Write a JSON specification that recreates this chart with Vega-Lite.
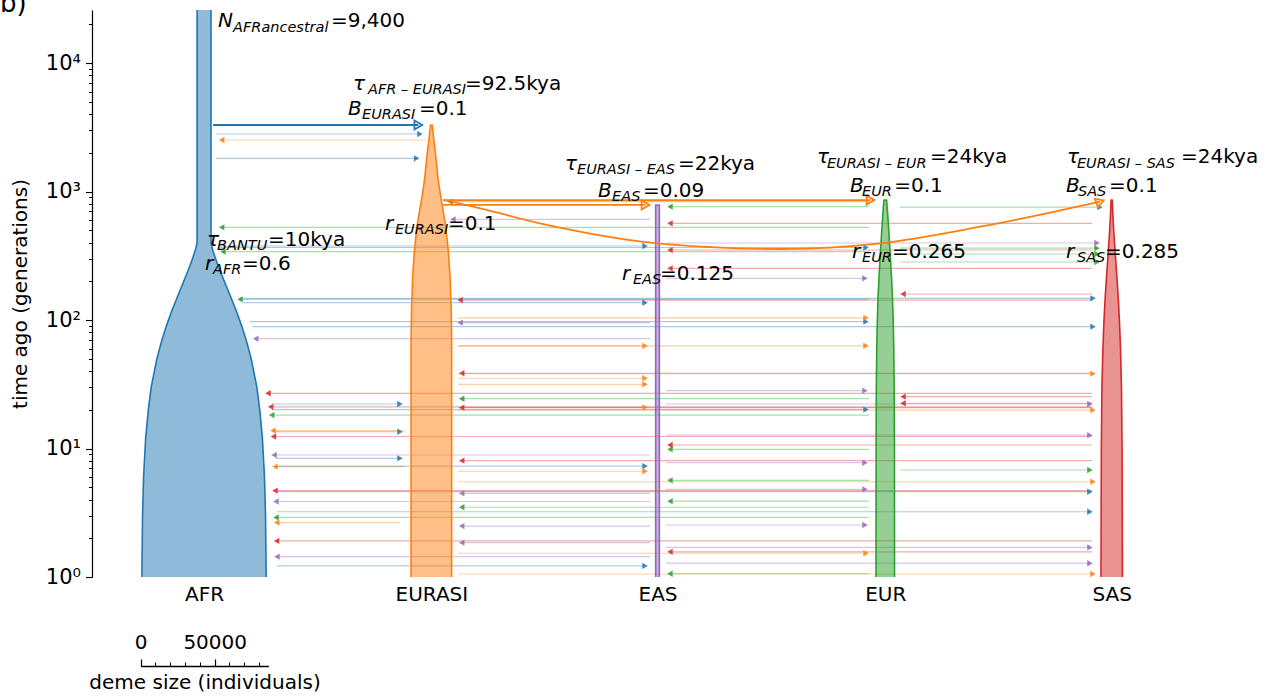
{
"$schema":"https://vega.github.io/schema/vega-lite/v6.json",
"width":1164,"height":567,
"autosize":{"type":"none"},
"padding":{"left":92,"top":10,"right":10,"bottom":120},
"background":"white",
"config":{"view":{"stroke":null},"axis":{"labelFont":"DejaVu Sans","titleFont":"DejaVu Sans","labelColor":"black","titleColor":"black","domainColor":"black","tickColor":"black","grid":false}},
"datasets":{
"centers":[{"deme":"AFR","center":75700},{"deme":"EURASI","center":229300},{"deme":"EAS","center":382100},{"deme":"EUR","center":536000},{"deme":"SAS","center":689000}],
"demes":[
{"deme":"AFR","time":40000,"size":9400},{"deme":"AFR","time":397,"size":9400},{"deme":"AFR","time":350,"size":11700},{"deme":"AFR","time":300,"size":15600},{"deme":"AFR","time":245,"size":21200},{"deme":"AFR","time":200,"size":27400},{"deme":"AFR","time":160,"size":34300},{"deme":"AFR","time":120,"size":43000},{"deme":"AFR","time":90,"size":50900},{"deme":"AFR","time":70,"size":56900},{"deme":"AFR","time":50,"size":63700},{"deme":"AFR","time":30,"size":71400},{"deme":"AFR","time":20,"size":75300},{"deme":"AFR","time":12,"size":78900},{"deme":"AFR","time":6,"size":81700},{"deme":"AFR","time":3,"size":83100},{"deme":"AFR","time":1,"size":84000},{"deme":"AFR","time":0.8,"size":84000},
{"deme":"EURASI","time":3293,"size":1200},{"deme":"EURASI","time":2500,"size":3400},{"deme":"EURASI","time":2000,"size":5500},{"deme":"EURASI","time":1300,"size":8800},{"deme":"EURASI","time":1000,"size":11500},{"deme":"EURASI","time":800,"size":14300},{"deme":"EURASI","time":532,"size":19500},{"deme":"EURASI","time":350,"size":22800},{"deme":"EURASI","time":217,"size":25300},{"deme":"EURASI","time":120,"size":26800},{"deme":"EURASI","time":70,"size":27400},{"deme":"EURASI","time":1,"size":27400},{"deme":"EURASI","time":0.8,"size":27400},
{"deme":"EAS","time":786,"size":2500},{"deme":"EAS","time":0.8,"size":2500},
{"deme":"EUR","time":857,"size":1800},{"deme":"EUR","time":700,"size":3000},{"deme":"EUR","time":600,"size":3800},{"deme":"EUR","time":500,"size":4700},{"deme":"EUR","time":419,"size":5500},{"deme":"EUR","time":300,"size":7100},{"deme":"EUR","time":200,"size":8700},{"deme":"EUR","time":150,"size":9700},{"deme":"EUR","time":100,"size":10700},{"deme":"EUR","time":60,"size":11500},{"deme":"EUR","time":30,"size":12100},{"deme":"EUR","time":10,"size":12400},{"deme":"EUR","time":1,"size":12500},{"deme":"EUR","time":0.8,"size":12500},
{"deme":"SAS","time":857,"size":800},{"deme":"SAS","time":700,"size":1400},{"deme":"SAS","time":600,"size":1950},{"deme":"SAS","time":500,"size":2700},{"deme":"SAS","time":400,"size":3800},{"deme":"SAS","time":300,"size":5300},{"deme":"SAS","time":200,"size":7400},{"deme":"SAS","time":150,"size":8800},{"deme":"SAS","time":100,"size":10400},{"deme":"SAS","time":60,"size":11900},{"deme":"SAS","time":30,"size":13200},{"deme":"SAS","time":10,"size":14000},{"deme":"SAS","time":1,"size":14500},{"deme":"SAS","time":0.8,"size":14500}
],
"mig":[
{"t":2802,"src":"AFR","xs":83800,"xe":221600},
{"t":1813,"src":"AFR","xs":83800,"xe":219400},
{"t":22.2,"src":"AFR","xs":121600,"xe":208100},
{"t":13.5,"src":"AFR","xs":123600,"xe":208100},
{"t":8.39,"src":"AFR","xs":124300,"xe":208100},
{"t":2517,"src":"EURASI","xs":225000,"xe":87600},
{"t":13.76,"src":"EURASI","xs":211500,"xe":122300},
{"t":7.22,"src":"EURASI","xs":211500,"xe":123600},
{"t":2.65,"src":"EURASI","xs":208100,"xe":124800},
{"t":26.9,"src":"SAS","xs":675700,"xe":118900},
{"t":21.1,"src":"SAS","xs":675700,"xe":120700},
{"t":12.4,"src":"SAS","xs":675700,"xe":122600},
{"t":4.7,"src":"SAS","xs":675700,"xe":123600},
{"t":1.91,"src":"SAS","xs":675700,"xe":124700},
{"t":526.6,"src":"EUR","xs":525000,"xe":87600},
{"t":340,"src":"EUR","xs":525000,"xe":88500},
{"t":144.9,"src":"EUR","xs":525000,"xe":100000},
{"t":18.2,"src":"EUR","xs":525000,"xe":121400},
{"t":2.91,"src":"EUR","xs":525000,"xe":124300},
{"t":71.5,"src":"EAS","xs":377000,"xe":110600},
{"t":8.9,"src":"EAS","xs":377000,"xe":123000},
{"t":3.87,"src":"EAS","xs":377000,"xe":124300},
{"t":1.44,"src":"EAS","xs":377000,"xe":125000},
{"t":376.6,"src":"AFR","xs":85100,"xe":373700},
{"t":136.3,"src":"AFR","xs":102000,"xe":373700},
{"t":7.3,"src":"AFR","xs":124300,"xe":373700},
{"t":1.22,"src":"AFR","xs":125000,"xe":373700},
{"t":62.8,"src":"EURASI","xs":247300,"xe":373700},
{"t":35.2,"src":"EURASI","xs":247300,"xe":373700},
{"t":31.6,"src":"EURASI","xs":247300,"xe":373700},
{"t":20.9,"src":"EURASI","xs":247300,"xe":373700},
{"t":6.65,"src":"EURASI","xs":247300,"xe":373700},
{"t":833,"src":"EUR","xs":525000,"xe":241900},
{"t":24.4,"src":"EUR","xs":525000,"xe":249800},
{"t":3.49,"src":"EUR","xs":525000,"xe":249800},
{"t":607.6,"src":"EAS","xs":377000,"xe":243900},
{"t":95.3,"src":"EAS","xs":377000,"xe":248700},
{"t":4.48,"src":"EAS","xs":377000,"xe":249800},
{"t":2.49,"src":"EAS","xs":377000,"xe":249800},
{"t":1.85,"src":"EAS","xs":377000,"xe":249800},
{"t":143,"src":"SAS","xs":675700,"xe":248700},
{"t":38.5,"src":"SAS","xs":675700,"xe":249800},
{"t":20.8,"src":"SAS","xs":675700,"xe":249800},
{"t":8.04,"src":"SAS","xs":675700,"xe":249800},
{"t":761.5,"src":"EUR","xs":525000,"xe":390500},
{"t":9.86,"src":"EUR","xs":525000,"xe":390500},
{"t":5.65,"src":"EUR","xs":525000,"xe":390500},
{"t":3.89,"src":"EUR","xs":525000,"xe":390500},
{"t":1.06,"src":"EUR","xs":525000,"xe":390500},
{"t":565.6,"src":"SAS","xs":675700,"xe":390500},
{"t":350.5,"src":"SAS","xs":675700,"xe":390500},
{"t":252.6,"src":"SAS","xs":675700,"xe":390500},
{"t":10.65,"src":"SAS","xs":675700,"xe":390500},
{"t":1.57,"src":"SAS","xs":675700,"xe":390500},
{"t":366.6,"src":"AFR","xs":85100,"xe":523000},
{"t":97,"src":"AFR","xs":106800,"xe":523000},
{"t":20.1,"src":"AFR","xs":121600,"xe":523000},
{"t":103.7,"src":"EURASI","xs":247300,"xe":523000},
{"t":63,"src":"EURASI","xs":247300,"xe":523000},
{"t":1.53,"src":"EURASI","xs":247300,"xe":523000},
{"t":211.1,"src":"EAS","xs":387800,"xe":522300},
{"t":28.2,"src":"EAS","xs":387800,"xe":522300},
{"t":7.75,"src":"EAS","xs":387800,"xe":522300},
{"t":4.81,"src":"EAS","xs":387800,"xe":522300},
{"t":2.54,"src":"EAS","xs":387800,"xe":522300},
{"t":159.3,"src":"SAS","xs":675700,"xe":548000},
{"t":25.3,"src":"SAS","xs":675700,"xe":548000},
{"t":22.5,"src":"SAS","xs":675700,"xe":548000},
{"t":755,"src":"EUR","xs":545900,"xe":681100},
{"t":362,"src":"EUR","xs":545900,"xe":679100},
{"t":326.3,"src":"EUR","xs":545900,"xe":679100},
{"t":282.8,"src":"EUR","xs":545900,"xe":679100},
{"t":6.8,"src":"EUR","xs":545900,"xe":674300},
{"t":397.3,"src":"EAS","xs":387800,"xe":679100},
{"t":22.2,"src":"EAS","xs":387800,"xe":674300},
{"t":12.7,"src":"EAS","xs":387800,"xe":674300},
{"t":1.7,"src":"EAS","xs":387800,"xe":674300},
{"t":1.28,"src":"EAS","xs":387800,"xe":674300},
{"t":147.5,"src":"AFR","xs":100000,"xe":676400},
{"t":88.7,"src":"AFR","xs":108100,"xe":676400},
{"t":4.61,"src":"AFR","xs":125000,"xe":674300},
{"t":3.22,"src":"AFR","xs":125000,"xe":674300},
{"t":38.2,"src":"EURASI","xs":247300,"xe":676400},
{"t":19.9,"src":"EURASI","xs":247300,"xe":676400},
{"t":5.51,"src":"EURASI","xs":247300,"xe":676400},
{"t":1.055,"src":"EURASI","xs":247300,"xe":676400}
],
"splits":[{"t":3293,"src":"AFR","xs":81800,"xe":220500},{"t":786,"src":"EURASI","xs":237200,"xe":374000},{"t":857,"src":"EURASI","xs":237200,"xe":526000}],
"curve":[{"x":237200,"t":859},{"x":253200,"t":785},{"x":307200,"t":549},{"x":381600,"t":395},{"x":464900,"t":357},{"x":532500,"t":395},{"x":600000,"t":532},{"x":645100,"t":676},{"x":681100,"t":833}],
"ann":[
{"kind":"main","txt":"N","x":85100,"t":19060},{"kind":"sub","txt":"AFRancestral","x":95300,"t":17585},{"kind":"val","txt":"=9,400","x":161500,"t":19060},
{"kind":"main","txt":"τ","x":176300,"t":6165},{"kind":"sub","txt":"AFR – EURASI","x":186500,"t":5739},{"kind":"val","txt":"=92.5kya","x":252000,"t":6165},
{"kind":"main","txt":"B","x":173000,"t":3938},{"kind":"sub","txt":"EURASI","x":182500,"t":3666},{"kind":"val","txt":"=0.1","x":220900,"t":3938},
{"kind":"main","txt":"τ","x":319600,"t":1470},{"kind":"sub","txt":"EURASI – EAS","x":327700,"t":1357},{"kind":"val","txt":"=22kya","x":395900,"t":1470},
{"kind":"main","txt":"B","x":341900,"t":911},{"kind":"sub","txt":"EAS","x":351400,"t":844},{"kind":"val","txt":"=0.09","x":372300,"t":911},
{"kind":"main","txt":"τ","x":489900,"t":1658},{"kind":"sub","txt":"EURASI – EUR","x":496600,"t":1524},{"kind":"val","txt":"=24kya","x":566300,"t":1658},
{"kind":"main","txt":"B","x":512200,"t":996},{"kind":"sub","txt":"EUR","x":520300,"t":923},{"kind":"val","txt":"=0.1","x":542000,"t":996},
{"kind":"main","txt":"τ","x":658800,"t":1658},{"kind":"sub","txt":"EURASI – SAS","x":665500,"t":1524},{"kind":"val","txt":"=24kya","x":735800,"t":1658},
{"kind":"main","txt":"B","x":658100,"t":996},{"kind":"sub","txt":"SAS","x":666200,"t":923},{"kind":"val","txt":"=0.1","x":687200,"t":996},
{"kind":"main","txt":"r","x":198000,"t":501.6},{"kind":"sub","txt":"EURASI","x":204700,"t":462.9},{"kind":"val","txt":"=0.1","x":240500,"t":501.6},
{"kind":"main","txt":"r","x":358100,"t":204.8},{"kind":"sub","txt":"EAS","x":365500,"t":190.6},{"kind":"val","txt":"=0.125","x":383800,"t":204.8},
{"kind":"main","txt":"r","x":513500,"t":302.2},{"kind":"sub","txt":"EUR","x":520300,"t":282.8},{"kind":"val","txt":"=0.265","x":540500,"t":302.2},
{"kind":"main","txt":"r","x":658100,"t":302.2},{"kind":"sub","txt":"SAS","x":665500,"t":282.8},{"kind":"val","txt":"=0.285","x":684500,"t":302.2},
{"kind":"main","txt":"τ","x":77700,"t":376.6},{"kind":"sub","txt":"BANTU","x":84500,"t":350.5},{"kind":"val","txt":"=10kya","x":118900,"t":376.6},
{"kind":"main","txt":"r","x":76400,"t":244.9},{"kind":"sub","txt":"AFR","x":81800,"t":228},{"kind":"val","txt":"=0.6","x":101400,"t":244.9},
{"kind":"panel","txt":"b)","x":-62200,"t":24940}
]
},
"resolve":{"axis":{"x":"independent","y":"independent"}},
"layer":[
{"data":{"name":"demes"},
 "transform":[{"lookup":"deme","from":{"data":{"name":"centers"},"key":"deme","fields":["center"]}},{"calculate":"datum.center - datum.size/2","as":"lo"},{"calculate":"datum.center + datum.size/2","as":"hi"}],
 "mark":{"type":"area","orient":"horizontal","clip":true,"opacity":0},
 "encoding":{
  "y":{"field":"time","type":"quantitative","scale":{"type":"log","domain":[1,25850],"nice":false},
   "axis":{"orient":"left","values":[1,10,100,1000,10000],
    "labelExpr":"datum.value == 1 ? '10⁰' : datum.value == 10 ? '10¹' : datum.value == 100 ? '10²' : datum.value == 1000 ? '10³' : '10⁴'",
    "tickSize":6.5,"tickWidth":1.1,"domainWidth":1.2,"labelFontSize":21,"labelPadding":5,"labelOverlap":false,"labelFlush":false,
    "title":"time ago (generations)","titleFontSize":20,"titleFontWeight":"normal","titlePadding":15}},
  "x":{"field":"lo","type":"quantitative","stack":null,"scale":{"domain":[0,786500],"nice":false,"zero":false},
   "axis":{"orient":"bottom","values":[75700,229300,382100,536000,689000],
    "labelExpr":"datum.value == 75700 ? 'AFR' : datum.value == 229300 ? 'EURASI' : datum.value == 382100 ? 'EAS' : datum.value == 536000 ? 'EUR' : 'SAS'",
    "ticks":false,"domain":false,"labelFontSize":20,"labelPadding":7,"labelFlush":false,"labelOverlap":false,"title":null}},
  "x2":{"field":"hi"}}},
{"data":{"values":[{"v":2},{"v":20}]},
 "mark":{"type":"point","opacity":0},
 "encoding":{"y":{"field":"v","type":"quantitative","scale":{"type":"log","domain":[1,25850],"nice":false},
   "axis":{"orient":"left","values":[2,3,4,5,6,7,8,9,20,30,40,50,60,70,80,90,200,300,400,500,600,700,800,900,2000,3000,4000,5000,6000,7000,8000,9000,20000],
    "labels":false,"domain":false,"tickSize":3.5,"tickWidth":1,"title":null}}}},
{"data":{"values":[{"n":32900},{"n":118500}]},
 "mark":{"type":"point","opacity":0},
 "encoding":{"x":{"field":"n","type":"quantitative","scale":{"domain":[0,786500],"nice":false,"zero":false},
  "axis":{"orient":"bottom","offset":89,"values":[32900,42900,52900,62900,72900,82900,92900,102900,112900],
   "labelExpr":"datum.value == 32900 ? '0' : datum.value == 82900 ? '50000' : ''",
   "tickSize":-4,"tickWidth":1,"domainWidth":1.3,"domainDash":[0,48.7,127.6,3000],"labelPadding":-14,"labelBaseline":"alphabetic","labelFontSize":20,"labelFlush":false,"labelOverlap":false,
   "title":"deme size (individuals)","titleFontSize":20,"titleFontWeight":"normal","titlePadding":6,"titleX":112.5,"titleAlign":"center"}}}},
{"data":{"values":[{"n":32900},{"n":82900}]},
 "mark":{"type":"point","opacity":0},
 "encoding":{"x":{"field":"n","type":"quantitative","scale":{"domain":[0,786500],"nice":false,"zero":false},
  "axis":{"orient":"bottom","offset":89,"values":[32900,82900],"labels":false,"domain":false,"tickSize":-7,"tickWidth":1.2,"title":null}}}},
{"data":{"name":"mig"},"mark":{"type":"rule","opacity":0.38,"strokeWidth":1.2},
 "encoding":{"y":{"field":"t","type":"quantitative","scale":{"type":"log","domain":[1,25850],"nice":false},"axis":null},
  "x":{"field":"xs","type":"quantitative","scale":{"domain":[0,786500],"nice":false,"zero":false},"axis":null},
  "x2":{"field":"xe"},
  "color":{"field":"src","type":"nominal","scale":{"domain":["AFR","EURASI","EAS","EUR","SAS"],"range":["#1f77b4","#ff7f0e","#9467bd","#2ca02c","#d62728"]},"legend":null}}},
{"data":{"name":"demes"},
 "transform":[{"lookup":"deme","from":{"data":{"name":"centers"},"key":"deme","fields":["center"]}},{"calculate":"datum.center - datum.size/2","as":"lo"},{"calculate":"datum.center + datum.size/2","as":"hi"}],
 "mark":{"type":"area","orient":"horizontal","clip":true,"fillOpacity":0.5,"strokeWidth":1.6,"strokeJoin":"round"},
 "encoding":{
  "y":{"field":"time","type":"quantitative","scale":{"type":"log","domain":[1,25850],"nice":false},"axis":null},
  "x":{"field":"lo","type":"quantitative","stack":null,"scale":{"domain":[0,786500],"nice":false,"zero":false},"axis":null},
  "x2":{"field":"hi"},
  "color":{"field":"deme","type":"nominal","scale":{"domain":["AFR","EURASI","EAS","EUR","SAS"],"range":["#1f77b4","#ff7f0e","#9467bd","#2ca02c","#d62728"]},"legend":null},
  "stroke":{"field":"deme","type":"nominal","scale":{"domain":["AFR","EURASI","EAS","EUR","SAS"],"range":["#1f77b4","#ff7f0e","#9467bd","#2ca02c","#d62728"]},"legend":null}}},
{"data":{"name":"mig"},"transform":[{"calculate":"datum.xe < datum.xs ? 'left' : 'right'","as":"dir"}],
 "mark":{"type":"point","filled":true,"size":40,"opacity":0.85},
 "encoding":{"y":{"field":"t","type":"quantitative","scale":{"type":"log","domain":[1,25850],"nice":false},"axis":null},
  "x":{"field":"xe","type":"quantitative","scale":{"domain":[0,786500],"nice":false,"zero":false},"axis":null},
  "color":{"field":"src","type":"nominal","scale":{"domain":["AFR","EURASI","EAS","EUR","SAS"],"range":["#1f77b4","#ff7f0e","#9467bd","#2ca02c","#d62728"]},"legend":null},
  "shape":{"field":"dir","type":"nominal","scale":{"domain":["left","right"],"range":["triangle-left","triangle-right"]},"legend":null}}},
{"data":{"name":"splits"},"mark":{"type":"rule","strokeWidth":1.8},
 "encoding":{"y":{"field":"t","type":"quantitative","scale":{"type":"log","domain":[1,25850],"nice":false},"axis":null},
  "x":{"field":"xs","type":"quantitative","scale":{"domain":[0,786500],"nice":false,"zero":false},"axis":null},
  "x2":{"field":"xe"},
  "color":{"field":"src","type":"nominal","scale":{"domain":["AFR","EURASI","EAS","EUR","SAS"],"range":["#1f77b4","#ff7f0e","#9467bd","#2ca02c","#d62728"]},"legend":null}}},
{"data":{"name":"curve"},"mark":{"type":"line","interpolate":"monotone","color":"#ff7f0e","strokeWidth":1.8},
 "encoding":{"y":{"field":"t","type":"quantitative","scale":{"type":"log","domain":[1,25850],"nice":false},"axis":null},
  "x":{"field":"x","type":"quantitative","scale":{"domain":[0,786500],"nice":false,"zero":false},"axis":null}}},
{"data":{"name":"splits"},"mark":{"type":"point","shape":"triangle-right","filled":false,"size":80,"strokeWidth":1.8,"opacity":1},
 "encoding":{"y":{"field":"t","type":"quantitative","scale":{"type":"log","domain":[1,25850],"nice":false},"axis":null},
  "x":{"field":"xe","type":"quantitative","scale":{"domain":[0,786500],"nice":false,"zero":false},"axis":null},
  "color":{"field":"src","type":"nominal","scale":{"domain":["AFR","EURASI","EAS","EUR","SAS"],"range":["#1f77b4","#ff7f0e","#9467bd","#2ca02c","#d62728"]},"legend":null}}},
{"data":{"name":"curve"},"transform":[{"filter":"datum.x > 680000"}],"mark":{"type":"point","shape":"triangle-right","filled":false,"size":80,"strokeWidth":1.8,"opacity":1,"color":"#ff7f0e","angle":-20},
 "encoding":{"y":{"field":"t","type":"quantitative","scale":{"type":"log","domain":[1,25850],"nice":false},"axis":null},
  "x":{"field":"x","type":"quantitative","scale":{"domain":[0,786500],"nice":false,"zero":false},"axis":null}}},
{"data":{"name":"ann"},"transform":[{"filter":"datum.kind == 'main'"}],"mark":{"type":"text","align":"left","baseline":"alphabetic","fontSize":20,"fontStyle":"italic","font":"DejaVu Sans","color":"black"},
 "encoding":{"y":{"field":"t","type":"quantitative","scale":{"type":"log","domain":[1,25850],"nice":false},"axis":null},
  "x":{"field":"x","type":"quantitative","scale":{"domain":[0,786500],"nice":false,"zero":false},"axis":null},
  "text":{"field":"txt"}}},
{"data":{"name":"ann"},"transform":[{"filter":"datum.kind == 'sub'"}],"mark":{"type":"text","align":"left","baseline":"alphabetic","fontSize":14.5,"fontStyle":"italic","font":"DejaVu Sans","color":"black"},
 "encoding":{"y":{"field":"t","type":"quantitative","scale":{"type":"log","domain":[1,25850],"nice":false},"axis":null},
  "x":{"field":"x","type":"quantitative","scale":{"domain":[0,786500],"nice":false,"zero":false},"axis":null},
  "text":{"field":"txt"}}},
{"data":{"name":"ann"},"transform":[{"filter":"datum.kind == 'val'"}],"mark":{"type":"text","align":"left","baseline":"alphabetic","fontSize":20,"font":"DejaVu Sans","color":"black"},
 "encoding":{"y":{"field":"t","type":"quantitative","scale":{"type":"log","domain":[1,25850],"nice":false},"axis":null},
  "x":{"field":"x","type":"quantitative","scale":{"domain":[0,786500],"nice":false,"zero":false},"axis":null},
  "text":{"field":"txt"}}},
{"data":{"name":"ann"},"transform":[{"filter":"datum.kind == 'panel'"}],"mark":{"type":"text","align":"left","baseline":"alphabetic","fontSize":26,"font":"DejaVu Sans","color":"black"},
 "encoding":{"y":{"field":"t","type":"quantitative","scale":{"type":"log","domain":[1,25850],"nice":false},"axis":null},
  "x":{"field":"x","type":"quantitative","scale":{"domain":[0,786500],"nice":false,"zero":false},"axis":null},
  "text":{"field":"txt"}}}
]
}
